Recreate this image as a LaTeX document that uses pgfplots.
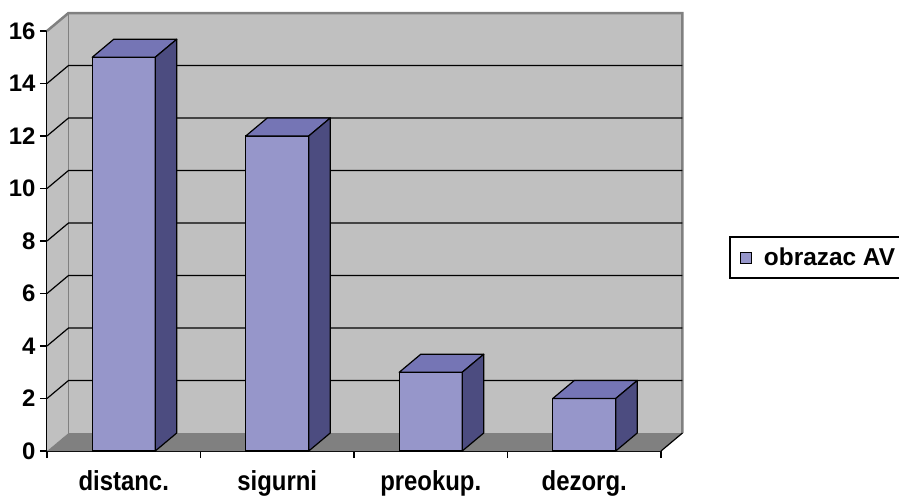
\documentclass[border=0pt]{standalone}
\usepackage{graphicx}
\usepackage{pgfplots}
\pgfplotsset{compat=1.18}
\usepackage{fontspec}
\setmainfont{Liberation Sans}
\definecolor{frontc}{RGB}{150,150,202}
\definecolor{topc}{RGB}{117,117,181}
\definecolor{sidec}{RGB}{76,76,128}
\definecolor{wallc}{RGB}{192,192,192}
\definecolor{floorc}{RGB}{128,128,128}
\definecolor{edgec}{RGB}{128,128,128}
\newcommand{\cl}[1]{\scalebox{1}[1.15]{#1}}
\pgfplotstableread{
x y
0.5 15
1.5 12
2.5 3
3.5 2
}\datatable
\begin{document}
\begin{tikzpicture}
\useasboundingbox (0bp,0bp) rectangle (899bp,-496bp);
\begin{axis}[
  at={(47bp,-451bp)}, anchor=south west,
  scale only axis, width=614bp, height=420bp,
  xmin=0, xmax=4, ymin=0, ymax=16,
  clip=false,
  axis x line*=bottom, axis y line*=left,
  axis line style={black, line width=1.5bp},
  tick align=outside, major tick length=7bp,
  tick style={black, line width=1.2bp},
  ytick={0,2,...,16},
  yticklabel style={xshift=-1bp},
  xtick={0,1,2,3,4}, xticklabels={,,,,},
  extra x ticks={0.5,1.5,2.5,3.5},
  extra x tick labels={\cl{distanc.},\cl{sigurni},\cl{preokup.},\cl{dezorg.}},
  extra x tick style={major tick length=0pt, xticklabel style={yshift=-16bp}},
  ticklabel style={font=\fontsize{24}{24}\selectfont\bfseries},
  /pgf/number format/assume math mode=true,
  legend style={at={(1.1108,0.4607)}, anchor=west, draw=black, line width=1.5bp,
    font=\fontsize{24.5}{24.5}\selectfont\bfseries, inner xsep=5bp, inner ysep=11bp,
    nodes={inner xsep=0pt, inner ysep=0pt}},
  legend image code/.code={\path (-5bp,0bp) (23bp,0bp); \draw[fill=frontc, draw=black, line width=1bp] (0bp,-5.5bp) rectangle (11bp,5.5bp);},
]
% walls and floor
\fill[wallc] (axis cs:0.14,0.6857) rectangle (axis cs:4.14,16.6857);
\fill[wallc] (axis cs:0,0) -- (axis cs:0.14,0.6857) -- (axis cs:0.14,16.6857) -- (axis cs:0,16) -- cycle;
\fill[floorc] (axis cs:0,0) -- (axis cs:0.14,0.6857) -- (axis cs:4.14,0.6857) -- (axis cs:4,0) -- cycle;
\draw[edgec, line width=1bp] (axis cs:0.14,0.6857) -- (axis cs:0.14,16.6857);
\draw[edgec, line width=2.5bp] (axis cs:0,16) -- (axis cs:0.14,16.6857) -- (axis cs:4.14,16.6857) -- (axis cs:4.14,0.6857);
\draw[black, line width=1.2bp] (axis cs:4,0) -- (axis cs:4.14,0.6857);
\pgfplotsinvokeforeach{2,4,...,14}{
  \draw[black, line width=1.2bp] (axis cs:0,#1) -- (axis cs:0.14,#1+0.6857) -- (axis cs:4.14,#1+0.6857);
}
\addplot[ybar, bar width=63bp, fill=frontc, draw=black, line width=1.2bp] table[x=x,y=y] {\datatable};
\addlegendentry{obrazac AV}
\addplot[forget plot, scatter, only marks, mark=*, mark size=0pt, mark options={draw=none,fill=none},
  visualization depends on={rawy \as \rawy},
  scatter/@pre marker code/.code={%
    \pgfmathsetmacro\hh{\rawy*26.25}%
    \pgfmathsetmacro\hb{18-\hh}%
    \fill[topc, draw=black, line width=1.2bp, line join=round] (-31.5bp,0bp) -- (31.5bp,0bp) -- (53bp,18bp) -- (-10bp,18bp) -- cycle;
    \fill[sidec, draw=black, line width=1.2bp, line join=round] (31.5bp,0bp) -- (53bp,18bp) -- (53bp,\hb bp) -- (31.5bp,-\hh bp) -- cycle;
  },
  scatter/@post marker code/.code={}]
  table[x=x,y=y] {\datatable};
\end{axis}
\end{tikzpicture}
\end{document}
